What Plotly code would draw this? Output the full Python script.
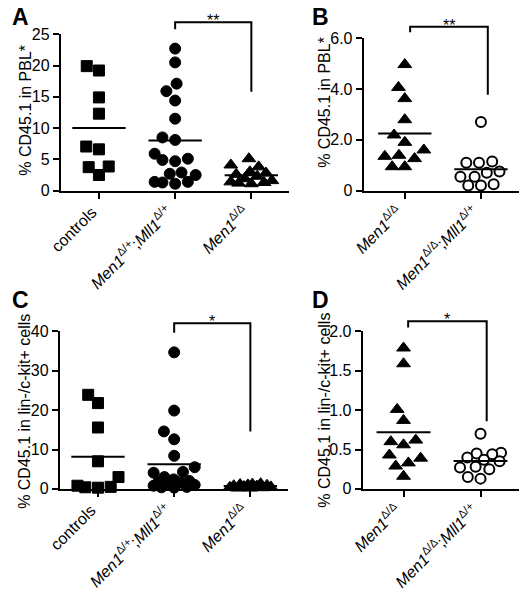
import numpy as np
import plotly.graph_objects as go

W, H = 520, 595
FONT = "Liberation Sans, Arial, sans-serif"

# ---- data ----
cats_left = ["controls",
             "<i>Men1</i><sup>Δ/+</sup>;<i>Mll1</i><sup>Δ/+</sup>",
             "<i>Men1</i><sup>Δ/Δ</sup>"]
cats_right = ["<i>Men1</i><sup>Δ/Δ</sup>",
              "<i>Men1</i><sup>Δ/Δ</sup>;<i>Mll1</i><sup>Δ/+</sup>"]

# A: % CD45.1 in PBL
a_controls = [19.2, 19.9, 14.9, 12.3, 7.05, 6.6, 3.86, 3.75, 2.5]
a_het = [22.7, 20.5, 17.1, 15.9, 14.4, 11.5, 8.5, 8.1, 5.9, 5.1, 4.9, 4.7,
         2.9, 2.7, 2.5, 1.4, 1.4, 1.3, 1.1]
a_ko = [5.1, 4.1, 3.8, 3.0, 2.8, 2.6, 2.3, 1.9, 1.6, 1.4, 1.3, 1.2, 1.1]

# B: % CD45.1 in PBL
b_ko = [4.96, 4.06, 3.62, 2.79, 2.19, 1.9, 1.6, 1.39, 1.35, 1.26, 0.94, 0.94]
b_dko = [2.7, 1.15, 1.1, 1.1, 0.75, 0.7, 0.55, 0.55, 0.25, 0.2, 0.2]

# C: % CD45.1 in lin-/c-kit+ cells
c_controls = [23.9, 21.8, 15.6, 7.0, 3.0, 0.8, 0.5, 0.4, 0.3]
c_het = [34.7, 19.9, 14.6, 12.6, 8.4, 5.5, 4.3, 4.1, 3.0, 2.4, 2.0, 1.8,
         1.6, 1.4, 1.0, 0.8, 0.5, 0.4, 0.3]
c_ko = [1.3, 1.2, 1.1, 1.0, 0.9, 0.8, 0.7, 0.6, 0.5, 0.4, 0.3, 0.2, 0.2]

# D: % CD45.1 in lin-/c-kit+ cells
d_ko = [1.79, 1.59, 1.01, 0.87, 0.62, 0.60, 0.56, 0.43, 0.39, 0.33, 0.29, 0.16]
d_dko = [0.70, 0.46, 0.45, 0.44, 0.40, 0.37, 0.35, 0.28, 0.27, 0.25, 0.15, 0.13]

# significance brackets: [x_left, x_right], [left foot, top, right foot], label
a_bracket = ([1, 2], [25.8, 26.9, 15.8], "**")
b_bracket = ([0.07, 1.09], [6.23, 6.45, 3.77], "**")
c_bracket = ([1, 2], [39.7, 42.1, 14.6], "*")
d_bracket = ([0.06, 1.08], [2.05, 2.13, 0.86], "*")

# ---- panel geometry (pixels) ----
panels = {
    "A": dict(px=(50, 284), py=(27, 188), xr=(-0.5, 2.5), yr=(0, 25),
              ticks=[0, 5, 10, 15, 20, 25], tlab=None, cats=cats_left,
              title="% CD45.1 in PBL*", tx=13, ty=105, lx=0, ly=0),
    "B": dict(px=(360, 519), py=(31, 188), xr=(-0.54, 1.5), yr=(0, 6),
              ticks=[0, 2, 4, 6], tlab=["0", "2.0", "4.0", "6.0"], cats=cats_right,
              title="% CD45.1 in PBL*", tx=320, ty=97, lx=307, ly=0),
    "C": dict(px=(49, 283), py=(333, 495), xr=(-0.5, 2.5), yr=(0, 40),
              ticks=[0, 10, 20, 30, 40], tlab=None, cats=cats_left,
              title="% CD45.1 in lin-/c-kit+ cells", tx=12, ty=415, lx=0, ly=291),
    "D": dict(px=(359, 519), py=(333, 495), xr=(-0.53, 1.5), yr=(0, 2),
              ticks=[0, 0.5, 1.0, 1.5, 2.0], tlab=["0", "0.5", "1.0", "1.5", "2.0"],
              cats=cats_right,
              title="% CD45.1 in lin-/c-kit+ cells", tx=320, ty=414, lx=307, ly=291),
}

groups = {
    "A": [(a_controls, "square"), (a_het, "circle"), (a_ko, "triangle-up")],
    "B": [(b_ko, "triangle-up"), (b_dko, "circle-open")],
    "C": [(c_controls, "square"), (c_het, "circle"), (c_ko, "triangle-up")],
    "D": [(d_ko, "triangle-up"), (d_dko, "circle-open")],
}
brackets = {"A": a_bracket, "B": b_bracket, "C": c_bracket, "D": d_bracket}


def swarm(values, ppu, ppc, d=13.0, maxw=21.0):
    # beeswarm in pixel space, limited width; returns offsets in category units
    vals = np.asarray(values, dtype=float)
    grid = np.arange(-maxw, maxw + 0.01, 0.5)
    grid = grid[np.argsort(np.abs(grid) + 1e-3 * grid, kind="stable")]
    placed = []
    offs = np.zeros(len(vals))
    for i in np.argsort(vals, kind="stable"):
        y = vals[i] * ppu
        if placed:
            P = np.array(placed)
            dist = np.sqrt((grid[:, None] - P[:, 0]) ** 2 + (y - P[:, 1]) ** 2).min(axis=1)
            ok = np.where(dist >= d)[0]
            c = grid[ok[0]] if len(ok) else grid[np.argmax(dist)]
        else:
            c = 0.0
        placed.append((c, y))
        offs[i] = c / ppc
    return offs


fig = go.Figure()
shapes, annotations = [], []

for n, (key, p) in enumerate(panels.items()):
    xa = "x" if n == 0 else f"x{n + 1}"
    ya = "y" if n == 0 else f"y{n + 1}"
    ppc = (p["px"][1] - p["px"][0]) / (p["xr"][1] - p["xr"][0])
    ppu = (p["py"][1] - p["py"][0]) / (p["yr"][1] - p["yr"][0])
    d0, d1 = 1 - p["py"][1] / H, 1 - p["py"][0] / H

    def ypaper(v):
        return d0 + (v - p["yr"][0]) / (p["yr"][1] - p["yr"][0]) * (d1 - d0)

    for gi, (vals, sym) in enumerate(groups[key]):
        offs = swarm(vals, ppu, ppc)
        open_ = sym == "circle-open"
        size = {"square": 11, "circle": 11, "triangle-up": 12, "circle-open": 10}[sym]
        fig.add_trace(go.Scatter(
            x=gi + offs, y=vals, mode="markers", xaxis=xa, yaxis=ya,
            cliponaxis=False, showlegend=False, hoverinfo="skip",
            marker=dict(symbol="circle" if open_ else sym, size=size,
                        color="white" if open_ else "black",
                        line=dict(color="black", width=2 if open_ else 1)),
        ))
        m = float(np.mean(vals))
        fig.add_trace(go.Scatter(
            x=[gi - 0.35, gi + 0.35], y=[m, m], mode="lines", xaxis=xa, yaxis=ya,
            line=dict(color="black", width=2), showlegend=False, cliponaxis=False,
            hoverinfo="skip",
        ))

    bx, by, lab = brackets[key]
    shapes.append(dict(
        type="path", xref=xa, yref="paper",
        path=f"M{bx[0]},{ypaper(by[0])} L{bx[0]},{ypaper(by[1])} "
             f"L{bx[1]},{ypaper(by[1])} L{bx[1]},{ypaper(by[2])}",
        line=dict(color="black", width=2),
    ))
    annotations.append(dict(
        text=lab, xref=xa, yref="paper", x=(bx[0] + bx[1]) / 2, y=ypaper(by[1]),
        xanchor="center", yanchor="bottom", yshift=-9, showarrow=False,
        font=dict(family=FONT, size=16, color="black"),
    ))
    annotations.append(dict(
        text=p["title"], xref="paper", yref="paper", x=p["tx"] / W, y=1 - p["ty"] / H,
        xanchor="center", yanchor="middle", textangle=-90, showarrow=False,
        font=dict(family=FONT, size=16, color="black"),
    ))
    annotations.append(dict(
        text=f"<b>{key}</b>", xref="paper", yref="paper", x=p["lx"] / W,
        y=1 - p["ly"] / H, xanchor="left", yanchor="top", xshift=-2, yshift=6,
        showarrow=False, font=dict(family=FONT, size=23, color="black"),
    ))

    axis_common = dict(showline=True, linecolor="black", linewidth=2, ticks="outside",
                       tickcolor="black", tickwidth=2, ticklen=6, showgrid=False,
                       zeroline=False, fixedrange=True,
                       tickfont=dict(family=FONT, size=16, color="black"))
    fig.layout[xa.replace("x", "xaxis")] = dict(
        domain=[p["px"][0] / W, p["px"][1] / W], range=list(p["xr"]), anchor=ya,
        tickvals=list(range(len(p["cats"]))), ticktext=p["cats"], tickangle=-45,
        ticklabelshift=-7, ticklabelstandoff=-2, **axis_common)
    fig.layout[ya.replace("y", "yaxis")] = dict(
        domain=[d0, d1], range=list(p["yr"]), anchor=xa, tickvals=p["ticks"],
        ticktext=p["tlab"] if p["tlab"] else [str(t) for t in p["ticks"]],
        **axis_common)

fig.update_layout(
    width=W, height=H, margin=dict(l=0, r=0, t=0, b=0),
    paper_bgcolor="white", plot_bgcolor="white",
    font=dict(family=FONT, color="black"),
    shapes=shapes, annotations=annotations, showlegend=False,
    hovermode=False,
)

# no page margin, and keep anything past the figure edge from growing the page
page_js = (
    "document.documentElement.style.overflow='hidden';"
    "document.body.style.margin='0';document.body.style.overflow='hidden';"
    "var gd=document.getElementById('{plot_id}');gd.style.overflow='hidden';"
    "document.querySelectorAll('svg.main-svg').forEach(function(s){s.style.overflow='hidden';});"
)
fig.write_html("out.html", config={"displayModeBar": False}, post_script=page_js)
